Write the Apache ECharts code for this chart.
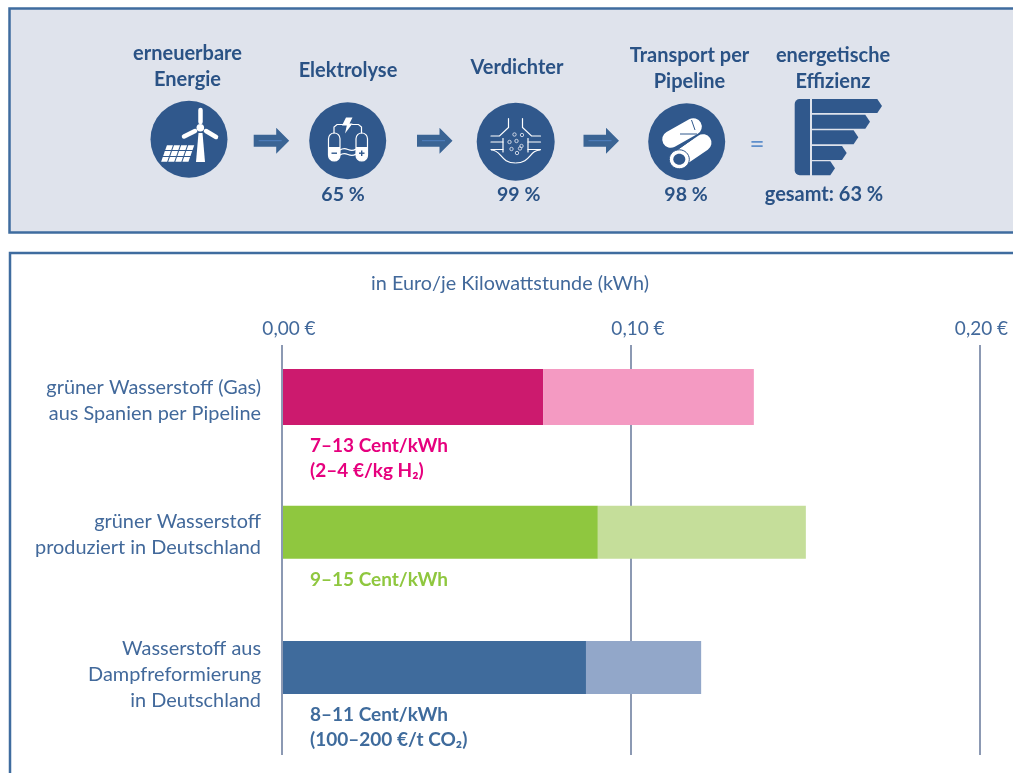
<!DOCTYPE html>
<html>
<head>
<meta charset="utf-8">
<title>Wasserstoff</title>
<script src="https://cdn.jsdelivr.net/npm/echarts@6/dist/echarts.min.js"></script>
<style>
  html, body { margin: 0; padding: 0; background: #fff; }
  #chart { width: 1013px; height: 773px; }
</style>
</head>
<body>
<div id="chart"></div>
<script>
// values, in Euro per kWh
var categories = [
  'grüner Wasserstoff (Gas)\naus Spanien per Pipeline',
  'grüner Wasserstoff\nproduziert in Deutschland',
  'Wasserstoff aus\nDampfreformierung\nin Deutschland'
];
var lowValues = [0.0748, 0.0905, 0.0871];
var highValues = [0.1352, 0.1501, 0.1201];
var rangeLabels = [
  '7–13 Cent/kWh\n(2–4 €/kg H₂)',
  '9–15 Cent/kWh',
  '8–11 Cent/kWh\n(100–200 €/t CO₂)'
];
var tickLabels = ['0,00 €', '0,10 €', '0,20 €'];
var axisTitle = 'in Euro/je Kilowattstunde (kWh)';

var stepNames = ['erneuerbare\nEnergie', 'Elektrolyse', 'Verdichter', 'Transport per\nPipeline', 'energetische\nEffizienz'];
var stepValues = ['', '65 %', '99 %', '98 %', 'gesamt: 63 %'];

var darkColors = ['#cc1a6e', '#8fc73f', '#3f6b9c'];
var lightColors = ['#f49ac2', '#c5de9a', '#92a7c9'];
var labelColors = ['#e6007e', '#8fc73f', '#3f6b9c'];
var barHeights = [56, 53, 53];
var labelShift = [4, 2, 7];

var FONT = 'Lato, "Noto Sans", sans-serif';
var BLUE = '#30588c';
var TXT = '#2a5285';

function txt(text, x, y, size, bold, color) {
  return {
    type: 'text',
    style: {
      text: text, x: x, y: y, fill: color || TXT, align: 'center', verticalAlign: 'middle',
      textAlign: 'center', textVerticalAlign: 'middle',
      font: (bold ? 'bold ' : '') + size + 'px ' + FONT, lineHeight: 26
    }
  };
}
function circle(cx, cy, r) {
  return { type: 'circle', shape: { cx: cx, cy: cy, r: r }, style: { fill: BLUE } };
}
function poly(points, fill) {
  return { type: 'polygon', shape: { points: points }, style: { fill: fill || '#fff' } };
}
function stroke(points, w) {
  return { type: 'polyline', shape: { points: points }, style: { stroke: '#fff', fill: 'none', lineWidth: w || 1.2, lineCap: 'round' } };
}
function arrow(x) {
  return [
    poly([[x, 134.7], [x + 22.5, 134.7], [x + 22.5, 127.7], [x + 35.5, 140.7], [x + 22.5, 153.7], [x + 22.5, 146.7], [x, 146.7]], '#3a6494'),
    { type: 'line', shape: { x1: x + 5, y1: 140.7, x2: x + 28, y2: 140.7 }, style: { stroke: '#4f80c0', lineWidth: 1 } }
  ];
}

function windIcon() {
  var g = [circle(189, 139.3, 38.5)];
  // Turbine
  g.push(poly([[198.5, 133], [202.5, 133], [205, 162], [196, 162]]));
  g.push({ type: 'line', shape: { x1: 200.5, y1: 110, x2: 200.5, y2: 122 }, style: { stroke: '#fff', lineWidth: 4.5, lineCap: 'round' } });
  g.push({ type: 'line', shape: { x1: 184, y1: 136.5, x2: 195, y2: 131 }, style: { stroke: '#fff', lineWidth: 4.5, lineCap: 'round' } });
  g.push({ type: 'line', shape: { x1: 206, y1: 131, x2: 216, y2: 137 }, style: { stroke: '#fff', lineWidth: 4.5, lineCap: 'round' } });
  g.push({ type: 'circle', shape: { cx: 200.3, cy: 127.7, r: 3.8 }, style: { fill: '#fff' } });
  // Solar panel
  for (var r = 0; r < 3; r++) {
    for (var c = 0; c < 4; c++) {
      var y0 = 145.2 + r * 5.9, y1 = y0 + 4.8;
      var xl = function (y) { return 166.7 - (y - 145) * 0.35; };
      var x0 = c * 7.1 + 0.3;
      g.push(poly([[xl(y0) + x0, y0], [xl(y0) + x0 + 6, y0], [xl(y1) + x0 + 6, y1], [xl(y1) + x0, y1]]));
    }
  }
  return g;
}

function capsule(x) {
  return [
    { type: 'rect', shape: { x: x, y: 133, width: 11.5, height: 28, r: 5.7 }, style: { fill: 'none', stroke: '#fff', lineWidth: 1.2 } },
    { type: 'rect', shape: { x: x, y: 147, width: 11.5, height: 14, r: [0, 0, 5.7, 5.7] }, style: { fill: '#fff' } }
  ];
}
function electrolysisIcon() {
  var g = [circle(347.7, 140.7, 38.5)];
  g = g.concat(capsule(328.5), capsule(356));
  g.push(stroke([[334, 133], [334, 127], [337, 124.5], [343, 124.5]]));
  g.push(stroke([[361.5, 133], [361.5, 127], [358.5, 124.5], [352, 124.5]]));
  g.push(poly([[346, 117.5], [352.5, 117.5], [349.5, 123.5], [352.5, 123.5], [345, 133.5], [346.8, 125.5], [342, 125.5]]));
  g.push({ type: 'bezierCurve', shape: { x1: 340, y1: 150, cpx1: 347, cpy1: 145, cpx2: 349, cpy2: 154, x2: 356, y2: 149 }, style: { stroke: '#fff', fill: 'none', lineWidth: 1.2 } });
  g.push({ type: 'bezierCurve', shape: { x1: 340, y1: 155, cpx1: 347, cpy1: 150, cpx2: 349, cpy2: 159, x2: 356, y2: 154 }, style: { stroke: '#fff', fill: 'none', lineWidth: 1.2 } });
  g.push({ type: 'rect', shape: { x: 331.5, y: 152.5, width: 5.5, height: 1.4 }, style: { fill: BLUE } });
  g.push({ type: 'rect', shape: { x: 359, y: 152.5, width: 5.5, height: 1.4 }, style: { fill: BLUE } });
  g.push({ type: 'rect', shape: { x: 361, y: 150.5, width: 1.4, height: 5.5 }, style: { fill: BLUE } });
  return g;
}

function compressorIcon() {
  var g = [circle(515.7, 141.7, 39)];
  g.push(stroke([[491, 136], [499.5, 136], [508.5, 127.5], [508.5, 118.5]]));
  g.push(stroke([[540.5, 136], [531.5, 136], [522.5, 127.5], [522.5, 118.5]]));
  g.push(stroke([[491, 142], [503, 142]]));
  g.push(stroke([[491, 149.5], [503, 149.5]]));
  g.push(stroke([[503, 138.5], [503, 152]]));
  g.push(stroke([[540.5, 142], [528, 142]]));
  g.push(stroke([[540.5, 149.5], [528, 149.5]]));
  g.push(stroke([[528, 138.5], [528, 152]]));
  g.push({ type: 'bezierCurve', shape: { x1: 491, y1: 150, cpx1: 502, cpy1: 150, cpx2: 500, cpy2: 163, x2: 515.5, y2: 163 }, style: { stroke: '#fff', fill: 'none', lineWidth: 1.2 } });
  g.push({ type: 'bezierCurve', shape: { x1: 540.5, y1: 150, cpx1: 529, cpy1: 150, cpx2: 531, cpy2: 163, x2: 515.5, y2: 163 }, style: { stroke: '#fff', fill: 'none', lineWidth: 1.2 } });
  [[514.5, 134.5], [522, 135], [516.5, 141], [509.5, 142], [521.5, 146], [511.5, 149], [517, 153], [520, 148.5]].forEach(function (p) {
    g.push({ type: 'circle', shape: { cx: p[0], cy: p[1], r: 1.7 }, style: { fill: 'none', stroke: '#d8dfeb', lineWidth: 0.9 } });
  });
  return g;
}

function pipelineIcon() {
  var g = [circle(686.7, 141.7, 38.5)];
  function tube(x1, y1, x2, y2) {
    return { type: 'line', shape: { x1: x1, y1: y1, x2: x2, y2: y2 }, style: { stroke: '#fff', lineWidth: 17, lineCap: 'round' } };
  }
  g.push(tube(670.7, 139.3, 693.3, 126.7));
  g.push(tube(682, 157, 703, 142.7));
  g.push({ type: 'line', shape: { x1: 680, y1: 134, x2: 697, y2: 134 }, style: { stroke: BLUE, lineWidth: 1 } });
  g.push({ type: 'line', shape: { x1: 691.5, y1: 120, x2: 695, y2: 130 }, style: { stroke: BLUE, lineWidth: 1 } });
  g.push({ type: 'line', shape: { x1: 677, y1: 150, x2: 693, y2: 138.5 }, style: { stroke: BLUE, lineWidth: 1 } });
  g.push({ type: 'ellipse', shape: { cx: 679.3, cy: 159.3, rx: 10, ry: 9.5 }, style: { fill: '#fff', stroke: BLUE, lineWidth: 1 } });
  g.push({ type: 'ellipse', shape: { cx: 679.3, cy: 159.3, rx: 6, ry: 5.5 }, style: { fill: BLUE } });
  return g;
}

function efficiencyIcon() {
  var g = [{ type: 'rect', shape: { x: 794.7, y: 99, width: 15.3, height: 76.3, r: [5, 0, 0, 5] }, style: { fill: BLUE } }];
  var tips = [882, 870, 858.3, 846.7, 835];
  var tops = [99, 114.7, 130.3, 146, 161.3];
  tips.forEach(function (tip, i) {
    var t = tops[i];
    g.push(poly([[812, t], [tip - 4.7, t], [tip, t + 7], [tip - 4.7, t + 14], [812, t + 14]], BLUE));
  });
  return g;
}

var graphics = [
  { type: 'rect', shape: { x: 9.5, y: 8.5, width: 1010, height: 224 }, style: { fill: '#dfe3ec', stroke: '#3f6c9f', lineWidth: 2.5 } },
  { type: 'rect', shape: { x: 10, y: 253, width: 1010, height: 540 }, style: { fill: 'none', stroke: '#3f6c9f', lineWidth: 2.5 } },
  txt(stepNames[0], 187.5, 66.5, 20, true),
  txt(stepNames[1], 348, 70.5, 20, true),
  txt(stepNames[2], 517, 67.5, 20, true),
  txt(stepNames[3], 689.5, 69, 20, true),
  txt(stepNames[4], 833, 69, 20, true),
  txt(stepValues[1], 343, 195, 19.5, true),
  txt(stepValues[2], 518.7, 195, 19.5, true),
  txt(stepValues[3], 686, 195, 19.5, true),
  txt(stepValues[4], 824, 195, 20, true),
  txt('=', 757, 145, 26, false, '#5f8fcb'),
  txt(axisTitle, 510, 284, 19.8, false, '#42699b')
].concat(windIcon(), electrolysisIcon(), compressorIcon(), pipelineIcon(), efficiencyIcon(), arrow(253.7), arrow(417), arrow(583.5));

var barData = categories.map(function (c, i) {
  return [lowValues[i], highValues[i], i];
});

function renderBar(params, api) {
  var i = api.value(2);
  var h = barHeights[i];
  var zero = api.coord([0, i]);
  var low = api.coord([api.value(0), i]);
  var high = api.coord([api.value(1), i]);
  var top = zero[1] - h / 2;
  return {
    type: 'group',
    children: [
      { type: 'rect', shape: { x: zero[0] + 1, y: top, width: low[0] - zero[0] - 1, height: h }, style: { fill: darkColors[i] } },
      { type: 'rect', shape: { x: low[0], y: top, width: high[0] - low[0], height: h }, style: { fill: lightColors[i] } },
      {
        type: 'text',
        style: {
          text: categories[i], x: zero[0] - 21, y: zero[1] + labelShift[i],
          textAlign: 'right', textVerticalAlign: 'middle', align: 'right', verticalAlign: 'middle',
          fill: '#42699b', font: '19.9px ' + FONT, lineHeight: 26
        }
      },
      {
        type: 'text',
        style: {
          text: rangeLabels[i], x: zero[0] + 28, y: top + h + 8.5,
          textAlign: 'left', textVerticalAlign: 'top', align: 'left', verticalAlign: 'top',
          fill: labelColors[i], font: 'bold 19px ' + FONT, lineHeight: 25
        }
      }
    ]
  };
}

var chart = echarts.init(document.getElementById('chart'));
chart.setOption({
  animation: false,
  textStyle: { fontFamily: FONT },
  graphic: { elements: graphics },
  grid: { left: 282, right: 33, top: 345, bottom: 18 },
  xAxis: {
    type: 'value',
    position: 'top',
    min: 0,
    max: 0.2,
    interval: 0.1,
    axisLine: { show: false },
    axisTick: { show: false },
    axisLabel: {
      margin: 7,
      color: '#42699b',
      fontSize: 19,
      formatter: function (v) {
        var i = Math.round(v * 10);
        return (i === 2 ? '{c|' : '{a|') + tickLabels[i] + '}';
      },
      rich: {
        a: { color: '#42699b', fontSize: 19, fontFamily: FONT, padding: [0, 0, 0, 14] },
        c: { color: '#42699b', fontSize: 19, fontFamily: FONT, padding: [0, 0, 0, 3] }
      }
    },
    splitLine: { lineStyle: { color: '#8c99b3', width: 2 } }
  },
  yAxis: {
    type: 'value',
    inverse: true,
    min: -0.3845,
    max: 2.647,
    show: false
  },
  series: [{
    type: 'custom',
    renderItem: renderBar,
    encode: { x: [0, 1], y: 2 },
    data: barData
  }]
});
</script>
</body>
</html>
